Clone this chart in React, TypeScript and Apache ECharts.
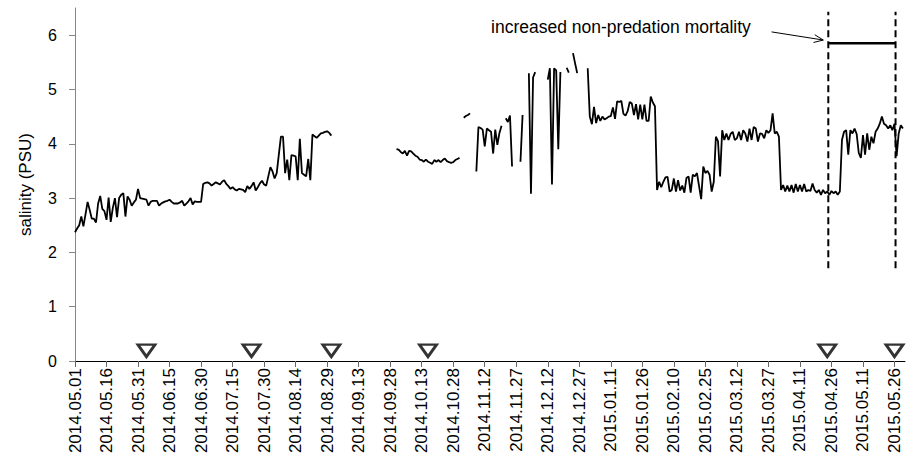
import React, { useEffect, useRef } from "react";
import * as echarts from "echarts";

// ---------- axis definitions ----------
const axisStart = "2014-05-01";
const axisEnd = "2015-05-31";
const tickStepDays = 15;
const yTickValues = [0, 1, 2, 3, 4, 5, 6];
const yMax = 6.5;

// ---------- salinity record (daily values, one array per unbroken stretch) ----------
const segmentStarts = [
  "2014-05-01", "2014-10-01", "2014-11-02", "2014-11-08", "2014-11-22", "2014-11-29",
  "2014-12-03", "2014-12-12", "2014-12-21", "2014-12-24", "2014-12-31",
];
const salinityMayAug = [
  2.37, 2.44, 2.5, 2.66, 2.48, 2.7, 2.93, 2.78, 2.62, 2.62, 2.55, 2.9, 3.04, 2.8, 2.76, 2.6,
  3.01, 2.56, 2.82, 3.0, 2.65, 3.0, 3.06, 3.09, 2.66, 3.03, 2.97, 2.86, 2.92, 2.97, 3.17, 3.0,
  2.99, 2.98, 2.97, 2.86, 2.93, 2.95, 2.95, 2.95, 2.86, 2.9, 2.92, 2.94, 2.95, 2.97, 2.93, 2.9,
  2.9, 2.9, 2.92, 2.95, 2.86, 2.9, 2.94, 3.0, 2.88, 2.94, 2.93, 2.93, 2.93, 3.26, 3.28, 3.29,
  3.27, 3.23, 3.26, 3.29, 3.27, 3.25, 3.3, 3.33, 3.26, 3.22, 3.17, 3.2, 3.16, 3.14, 3.17, 3.16,
  3.15, 3.11, 3.22, 3.17, 3.22, 3.29, 3.14, 3.2, 3.27, 3.32, 3.25, 3.23, 3.4, 3.57, 3.49, 3.36,
  3.46, 3.8, 4.13, 4.13, 3.46, 3.71, 3.33, 3.79, 3.78, 3.77, 3.33, 4.09, 3.46, 3.43, 3.4, 3.72,
  3.33, 4.17, 4.14, 4.11, 4.15, 4.19, 4.2, 4.22, 4.23, 4.2, 4.15,
];
const salinityOct = [
  3.9, 3.89, 3.85, 3.82, 3.87, 3.78, 3.87, 3.86, 3.82, 3.78, 3.76, 3.71, 3.7, 3.67, 3.71, 3.67,
  3.65, 3.63, 3.7, 3.67, 3.7, 3.66, 3.7, 3.73, 3.68, 3.66, 3.65, 3.66, 3.7, 3.72, 3.74,
];
const salinityNovA = [4.48, 4.51, 4.53, 4.56];
const salinityNovB = [3.49, 4.31, 4.29, 4.26, 3.95, 4.28, 4.25, 4.22, 3.82, 4.26, 3.98, 4.2, 4.33];
const salinityNovC = [4.47, 4.4, 4.52, 3.58];
const salinityNovD = [3.67, 4.53];
const salinityDecA = [5.3, 3.08, 5.22, 5.32];
const salinityDecB = [5.18, 5.39, 3.25, 5.39, 5.35, 3.9, 5.32];
const salinityDecC = [5.4, 5.31];
const salinityDecD = [5.67, 5.48, 5.3];
const salinityDecMay = [
  5.39, 4.5, 4.36, 4.68, 4.38, 4.53, 4.42, 4.5, 4.45, 4.47, 4.5, 4.51, 4.67, 4.46, 4.78, 4.77,
  4.79, 4.55, 4.52, 4.6, 4.77, 4.74, 4.53, 4.73, 4.45, 4.72, 4.45, 4.72, 4.42, 4.42, 4.87, 4.76,
  4.69,
  3.15, 3.3, 3.2, 3.3, 3.38, 3.39, 3.12, 3.15, 3.36, 3.12, 3.33, 3.14, 3.23, 3.1, 3.37, 3.4,
  3.1, 3.43, 3.4, 3.46, 3.22, 2.98, 3.58, 3.46, 3.5, 3.43, 3.12, 3.3,
  4.13, 4.05, 3.4, 4.25, 4.07, 4.19, 4.07, 4.18, 4.22, 4.07, 4.1, 4.22, 4.07, 4.25, 4.19, 4.04,
  4.28, 4.07, 4.31, 4.28, 4.04, 4.19, 4.18, 4.1, 4.25, 4.2, 4.25, 4.56, 4.19, 4.22, 4.13,
  3.15, 3.24, 3.12, 3.23, 3.12, 3.24, 3.1, 3.26, 3.12, 3.24, 3.12, 3.26, 3.12, 3.15, 3.13, 3.27,
  3.15, 3.1, 3.15, 3.06, 3.15, 3.09, 3.12, 3.06, 3.13, 3.09, 3.12, 3.06, 3.12,
  4.07, 4.22, 4.25, 3.8, 4.25, 4.19, 4.28, 4.18, 3.83, 3.74, 4.16, 3.8, 4.19, 3.89, 4.13, 4.01,
  4.22, 4.28, 4.37, 4.5, 4.37, 4.34, 4.28, 4.34, 4.25, 4.37, 3.77, 4.19, 4.34, 4.28,
];
const segmentValues = [
  salinityMayAug, salinityOct, salinityNovA, salinityNovB, salinityNovC, salinityNovD,
  salinityDecA, salinityDecB, salinityDecC, salinityDecD, salinityDecMay,
];

// ---------- sampling dates (triangles) ----------
const samplingDates = ["2014-06-04", "2014-07-24", "2014-08-31", "2014-10-16", "2015-04-24", "2015-05-26"];
const samplingMarkerLevel = 0.19;

// ---------- increased mortality period ----------
const mortalityStart = "2015-04-24T12:00:00Z";
const mortalityEnd = "2015-05-26T12:00:00Z";
const mortalityBarLevel = 5.85;
const mortalityLineRange = [1.71, 6.43];
const annotationText = "increased non-predation mortality";

const DAY = 86400000;
const toMs = (s: string) => Date.parse(s.length === 10 ? s + "T00:00:00Z" : s);
const dayOf = (s: string) => (toMs(s) - toMs(axisStart)) / DAY;
const pad = (n: number) => (n < 10 ? "0" + n : "" + n);
const labelOf = (d: number) => {
  const t = new Date(toMs(axisStart) + Math.round(d) * DAY);
  return `${t.getUTCFullYear()}.${pad(t.getUTCMonth() + 1)}.${pad(t.getUTCDate())}`;
};

const FONT = "'Liberation Sans', Arial, sans-serif";

export default function App() {
  const ref = useRef<HTMLDivElement>(null);

  useEffect(() => {
    if (!ref.current) return;
    const chart = echarts.init(ref.current, undefined, { renderer: "svg" });
    const xMax = dayOf(axisEnd);
    const xTicks: number[] = [];
    for (let d = 0; d <= xMax; d += tickStepDays) xTicks.push(d);

    const lineSeries = segmentValues.map((vals, i) => {
      const s0 = dayOf(segmentStarts[i]);
      return {
        type: "line",
        data: vals.map((v, k) => [s0 + k, v]),
        showSymbol: false,
        symbol: "none",
        lineStyle: { color: "#000", width: 1.8 },
        silent: true,
        z: 3,
      };
    });

    const ms = dayOf(mortalityStart);
    const me = dayOf(mortalityEnd);

    const option: any = {
      animation: false,
      grid: { left: 75, right: 7, top: 8, bottom: 100 },
      xAxis: {
        type: "value",
        min: 0,
        max: xMax,
        interval: tickStepDays,
        splitLine: { show: false },
        axisLine: { show: true, onZero: false, lineStyle: { color: "#000", width: 1 } },
        axisTick: { show: true, length: 6, customValues: xTicks, lineStyle: { color: "#666" } },
        axisLabel: {
          customValues: xTicks,
          rotate: 90,
          margin: 7,
          fontSize: 17,
          fontFamily: FONT,
          color: "#000",
          formatter: (v: number) => labelOf(v),
        },
      },
      yAxis: {
        type: "value",
        min: 0,
        max: yMax,
        interval: 1,
        name: "salinity (PSU)",
        nameLocation: "middle",
        nameGap: 41,
        nameRotate: 90,
        nameTextStyle: { fontSize: 17, fontFamily: FONT, color: "#000" },
        splitLine: { show: false },
        axisLine: { show: true, lineStyle: { color: "#868686", width: 1 } },
        axisTick: { show: true, length: 6, customValues: yTickValues, lineStyle: { color: "#868686" } },
        axisLabel: {
          customValues: yTickValues,
          margin: 18,
          fontSize: 16,
          fontFamily: FONT,
          color: "#000",
        },
      },
      series: [
        ...lineSeries,
        {
          type: "line",
          data: [[ms, mortalityLineRange[0]], [ms, mortalityLineRange[1]]],
          symbol: "none",
          lineStyle: { color: "#000", width: 2, type: [7, 4] },
          silent: true,
        },
        {
          type: "line",
          data: [[me, mortalityLineRange[0]], [me, mortalityLineRange[1]]],
          symbol: "none",
          lineStyle: { color: "#000", width: 2, type: [7, 4] },
          silent: true,
        },
        {
          type: "line",
          data: [[ms, mortalityBarLevel], [me, mortalityBarLevel]],
          symbol: "none",
          lineStyle: { color: "#000", width: 2.5 },
          silent: true,
        },
        {
          type: "scatter",
          data: samplingDates.map((d) => [dayOf(d), samplingMarkerLevel]),
          symbol: "triangle",
          symbolRotate: 180,
          symbolSize: [17, 12],
          itemStyle: { color: "#fff", borderColor: "#000", borderWidth: 2.8 },
          silent: true,
          z: 5,
        },
      ],
    };
    chart.setOption(option);

    // annotation text + arrow placed relative to the mortality period
    const arrowTo = chart.convertToPixel({ gridIndex: 0 }, [ms - 2.4, 5.91]) as number[];
    const arrowFrom = chart.convertToPixel({ gridIndex: 0 }, [ms - 27, 6.06]) as number[];
    const textAt = chart.convertToPixel({ gridIndex: 0 }, [ms - 160.5, 6.15]) as number[];
    const ang = Math.atan2(arrowTo[1] - arrowFrom[1], arrowTo[0] - arrowFrom[0]);
    const headLen = 10;
    const spread = 0.4;
    const h1 = [arrowTo[0] - headLen * Math.cos(ang - spread), arrowTo[1] - headLen * Math.sin(ang - spread)];
    const h2 = [arrowTo[0] - headLen * Math.cos(ang + spread), arrowTo[1] - headLen * Math.sin(ang + spread)];

    chart.setOption({
      graphic: [
        {
          type: "text",
          x: textAt[0],
          y: textAt[1],
          style: {
            text: annotationText,
            fontSize: 17.5,
            fontFamily: FONT,
            fill: "#000",
            textAlign: "left",
            textVerticalAlign: "middle",
          },
          silent: true,
        },
        {
          type: "line",
          shape: { x1: arrowFrom[0], y1: arrowFrom[1], x2: arrowTo[0], y2: arrowTo[1] },
          style: { stroke: "#000", lineWidth: 1 },
          silent: true,
        },
        {
          type: "polyline",
          shape: { points: [h1, arrowTo, h2] },
          style: { stroke: "#000", lineWidth: 1, fill: null },
          silent: true,
        },
      ],
    });

    return () => chart.dispose();
  }, []);

  return (
    <div
      ref={ref}
      style={{ position: "fixed", left: 0, top: 0, width: 912, height: 461, background: "#fff" }}
    />
  );
}
